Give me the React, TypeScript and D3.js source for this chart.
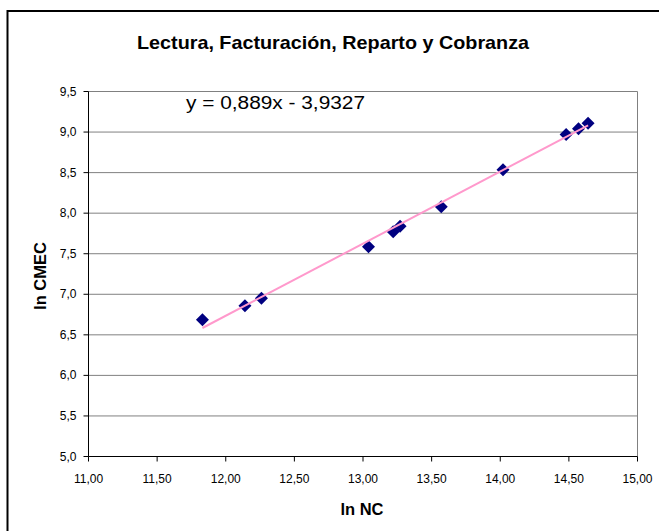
import React from "react";
import * as d3 from "d3";

const lnNC = [11.83, 12.14, 12.26, 13.04, 13.22, 13.27, 13.57, 14.02, 14.48, 14.57, 14.64];
const lnCMEC = [6.685, 6.86, 6.95, 7.585, 7.77, 7.84, 8.08, 8.535, 8.97, 9.04, 9.11];
const trendCoef = [0.889, -3.9327];
const xTicks = [11, 11.5, 12, 12.5, 13, 13.5, 14, 14.5, 15];
const yTicks = [5, 5.5, 6, 6.5, 7, 7.5, 8, 8.5, 9, 9.5];
const title = "Lectura, Facturación, Reparto y Cobranza";
const equation = "y = 0,889x - 3,9327";

const W = 659, H = 531;
const L = 88.5, R = 637.5, T = 91.5, B = 456.5;
const FONT = "'Liberation Sans', Arial, sans-serif";

export default function App() {
  const x = d3.scaleLinear().domain([11, 15]).range([L, R]);
  const y = d3.scaleLinear().domain([5, 9.5]).range([B, T]);
  const fmtX = (v: number) => v.toFixed(2).replace(".", ",");
  const fmtY = (v: number) => v.toFixed(1).replace(".", ",");
  const xmin = d3.min(lnNC)!, xmax = d3.max(lnNC)!;
  const line = d3.line<number>().x((d) => x(d)).y((d) => y(trendCoef[0] * d + trendCoef[1]));
  const diamond = (cx: number, cy: number, r: number) =>
    `M${cx},${cy - r}L${cx + r},${cy}L${cx},${cy + r}L${cx - r},${cy}Z`;
  return (
    <svg width={W} height={H} style={{ position: "absolute", left: 0, top: 0 }} fontFamily={FONT}>
      <rect x={0} y={0} width={W} height={H} fill="#fff" />
      <rect x={7.5} y={11} width={W + 20} height={H + 20} fill="#fff" stroke="#000" strokeWidth={2} />
      <text x={333} y={49} textAnchor="middle" fontSize={19} fontWeight="bold" textLength={392} lengthAdjust="spacingAndGlyphs">{title}</text>
      {yTicks.map((t) => (
        <g key={"y" + t}>
          {t > 5 && <line x1={L} x2={R} y1={y(t)} y2={y(t)} stroke="#808080" strokeWidth={1} />}
          <line x1={L - 5} x2={L} y1={y(t)} y2={y(t)} stroke="#000" />
          <text x={L - 12} y={y(t) + 4} textAnchor="end" fontSize={12} fill="#000">{fmtY(t)}</text>
        </g>
      ))}
      <line x1={R} x2={R} y1={T} y2={B} stroke="#808080" />
      {xTicks.map((t) => (
        <g key={"x" + t}>
          <line x1={x(t)} x2={x(t)} y1={B} y2={B + 5} stroke="#000" />
          <text x={x(t)} y={B + 26} textAnchor="middle" fontSize={12} fill="#000">{fmtX(t)}</text>
        </g>
      ))}
      <line x1={L} x2={L} y1={T} y2={B} stroke="#000" />
      <line x1={L} x2={R} y1={B} y2={B} stroke="#000" />
      {lnNC.map((v, i) => (
        <path key={"p" + i} d={diamond(x(v), y(lnCMEC[i]), 6.5)} fill="#000080" />
      ))}
      <path d={line([xmin, xmax]) || ""} stroke="#FF99CC" strokeWidth={2} fill="none" />
      <text x={186} y={108.5} fontSize={18} fill="#000" textLength={179} lengthAdjust="spacingAndGlyphs">{equation}</text>
      <text x={362} y={515} textAnchor="middle" fontSize={16.5} fontWeight="bold">ln NC</text>
      <text transform={`translate(46,${(T + B) / 2 + 2}) rotate(-90)`} textAnchor="middle" fontSize={16.5} fontWeight="bold">ln CMEC</text>
    </svg>
  );
}
